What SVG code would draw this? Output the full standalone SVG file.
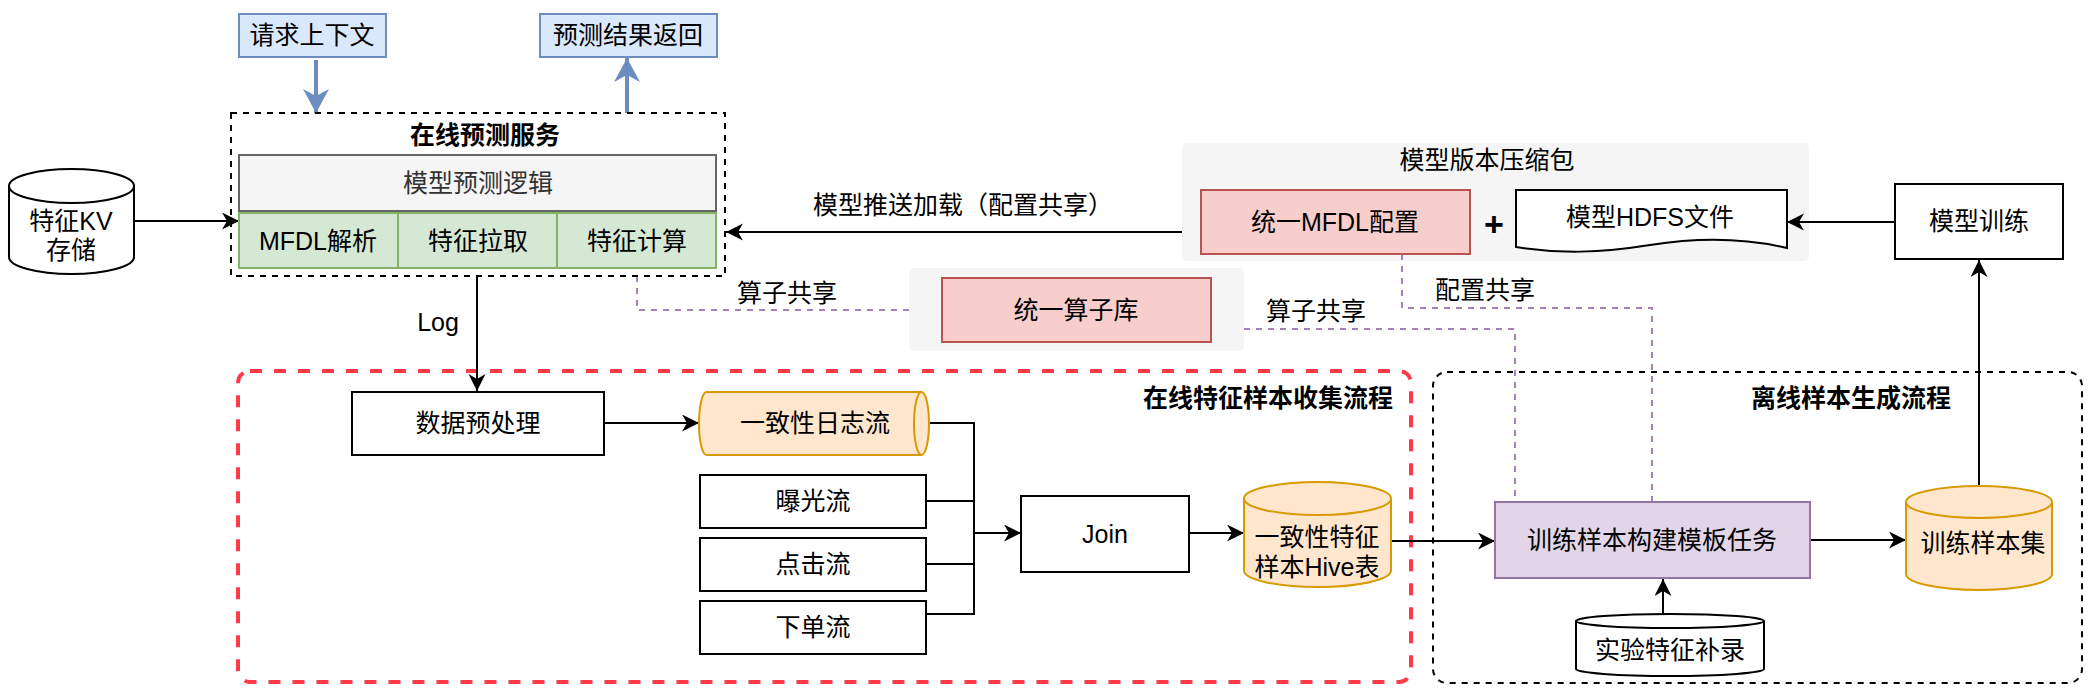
<svg xmlns="http://www.w3.org/2000/svg" width="2094" height="695" viewBox="0 0 2094 695">
<style>
.t{font-family:"Liberation Sans","Noto Sans CJK SC",sans-serif;font-size:25px;text-anchor:middle;dominant-baseline:central;fill:#000}
.b{font-weight:bold}
.box{fill:#fff;stroke:#000;stroke-width:2}
.e{fill:none;stroke:#000;stroke-width:2}
.pd{fill:none;stroke:#a680b8;stroke-width:2;stroke-dasharray:6 6}
.blue{fill:#dae8fc;stroke:#6c8ebf;stroke-width:2}
.red{fill:#f8cecc;stroke:#b85450;stroke-width:2}
.green{fill:#d5e8d4;stroke:#82b366;stroke-width:2}
.org{fill:#ffe6cc;stroke:#d79b00;stroke-width:2}
.panel{fill:#f5f5f5;stroke:none}
</style>
<defs>
<marker id="arr" markerUnits="userSpaceOnUse" markerWidth="18" markerHeight="18" refX="17" refY="8.5" orient="auto">
<path d="M0,0 L17,8.5 L0,17 L5,8.5 Z" fill="#000"/>
</marker>
<marker id="barr" markerUnits="userSpaceOnUse" markerWidth="26" markerHeight="26" refX="24" refY="13" orient="auto">
<path d="M0,0 L24,13 L0,26 L7,13 Z" fill="#6c8ebf"/>
</marker>
</defs>

<!-- background panels and containers -->
<g id="panel-package">
<rect class="panel" x="1182" y="143" width="627" height="118" rx="5"/>
<text class="t" x="1487" y="160">模型版本压缩包</text>
</g>
<g id="panel-ops">
<rect class="panel" x="909" y="268" width="335" height="83" rx="5"/>
</g>
<g id="online-flow">
<rect x="238" y="371" width="1173" height="311" rx="12" fill="none" stroke="#ff3b47" stroke-width="4" stroke-dasharray="12 12"/>
<text class="t b" x="1268" y="398">在线特征样本收集流程</text>
</g>
<g id="offline-flow">
<rect x="1433" y="372" width="649" height="311" rx="14" fill="none" stroke="#000" stroke-width="2" stroke-dasharray="6 6"/>
<text class="t b" x="1851" y="398">离线样本生成流程</text>
</g>

<!-- connectors -->
<g id="connectors">
<line x1="316" y1="60" x2="316" y2="113" stroke="#6c8ebf" stroke-width="4" marker-end="url(#barr)"/>
<line x1="627" y1="113" x2="627" y2="58" stroke="#6c8ebf" stroke-width="4" marker-end="url(#barr)"/>
<line class="e" x1="134" y1="221" x2="239" y2="221" marker-end="url(#arr)"/>
<line class="e" x1="1182" y1="232" x2="726" y2="232" marker-end="url(#arr)"/>
<text class="t" x="963" y="205">模型推送加载（配置共享）</text>
<line class="e" x1="477" y1="276" x2="477" y2="391" marker-end="url(#arr)"/>
<text class="t" x="438" y="322">Log</text>
<line class="e" x1="604" y1="423" x2="699" y2="423" marker-end="url(#arr)"/>
<polyline class="e" points="929,423 974,423 974,533"/>
<polyline class="e" points="926,501 974,501"/>
<polyline class="e" points="926,564 974,564"/>
<polyline class="e" points="926,614 974,614 974,533"/>
<line class="e" x1="974" y1="533" x2="1021" y2="533" marker-end="url(#arr)"/>
<line class="e" x1="1189" y1="533" x2="1244" y2="533" marker-end="url(#arr)"/>
<line class="e" x1="1391" y1="541" x2="1495" y2="541" marker-end="url(#arr)"/>
<line class="e" x1="1810" y1="540" x2="1906" y2="540" marker-end="url(#arr)"/>
<line class="e" x1="1979" y1="486" x2="1979" y2="260" marker-end="url(#arr)"/>
<line class="e" x1="1895" y1="222" x2="1787" y2="222" marker-end="url(#arr)"/>
<line class="e" x1="1663" y1="614" x2="1663" y2="579" marker-end="url(#arr)"/>
<polyline class="pd" points="637,276 637,310 909,310"/>
<text class="t" x="787" y="293">算子共享</text>
<polyline class="pd" points="1244,329 1515,329 1515,502"/>
<text class="t" x="1316" y="311">算子共享</text>
<polyline class="pd" points="1402,254 1402,308 1652,308 1652,502"/>
<text class="t" x="1485" y="290">配置共享</text>
</g>

<!-- nodes -->
<g id="req">
<rect class="blue" x="239" y="14" width="147" height="43"/>
<text class="t" x="312" y="35">请求上下文</text>
</g>
<g id="resp">
<rect class="blue" x="540" y="14" width="177" height="43"/>
<text class="t" x="628" y="35">预测结果返回</text>
</g>
<g id="online-service">
<rect x="231" y="113" width="494" height="163" fill="none" stroke="#000" stroke-width="2" stroke-dasharray="6 6"/>
<text class="t b" x="485" y="135">在线预测服务</text>
<rect x="239" y="155" width="477" height="56" fill="#f5f5f5" stroke="#666" stroke-width="2"/>
<text class="t" x="478" y="183" style="fill:#333">模型预测逻辑</text>
<rect class="green" x="239" y="213" width="159" height="55"/>
<rect class="green" x="398" y="213" width="159" height="55"/>
<rect class="green" x="557" y="213" width="159" height="55"/>
<text class="t" x="318" y="241">MFDL解析</text>
<text class="t" x="478" y="241">特征拉取</text>
<text class="t" x="637" y="241">特征计算</text>
</g>
<g id="kv">
<path class="box" d="M9,186 A62.5,17 0 0 1 134,186 V257 A62.5,17 0 0 1 9,257 Z"/>
<path class="e" d="M9,186 A62.5,17 0 0 0 134,186"/>
<text class="t" x="71" y="221">特征KV</text>
<text class="t" x="71" y="250">存储</text>
</g>
<g id="mfdl">
<rect class="red" x="1201" y="190" width="269" height="64"/>
<text class="t" x="1335" y="222">统一MFDL配置</text>
</g>
<g id="plus">
<text class="t b" x="1494" y="224" style="font-size:34px">+</text>
</g>
<g id="hdfs">
<path class="box" d="M1516,190 L1787,190 L1787,248 C1745,238 1700,237 1650,245 C1600,253 1560,254 1516,247 Z"/>
<text class="t" x="1650" y="217">模型HDFS文件</text>
</g>
<g id="train">
<rect class="box" x="1895" y="184" width="168" height="75"/>
<text class="t" x="1979" y="221">模型训练</text>
</g>
<g id="ops">
<rect class="red" x="942" y="278" width="269" height="64"/>
<text class="t" x="1076" y="310">统一算子库</text>
</g>
<g id="preprocess">
<rect class="box" x="352" y="392" width="252" height="63"/>
<text class="t" x="478" y="423">数据预处理</text>
</g>
<g id="logstream">
<path class="org" d="M706.5,392 L921.5,392 A7.5,31.5 0 0 1 921.5,455 L706.5,455 A7.5,31.5 0 0 1 706.5,392 Z"/>
<path fill="none" stroke="#d79b00" stroke-width="2" d="M921.5,392 A7.5,31.5 0 0 0 921.5,455"/>
<text class="t" x="815" y="423">一致性日志流</text>
</g>
<g id="expose">
<rect class="box" x="700" y="475" width="226" height="53"/>
<text class="t" x="813" y="501">曝光流</text>
</g>
<g id="click">
<rect class="box" x="700" y="538" width="226" height="53"/>
<text class="t" x="813" y="564">点击流</text>
</g>
<g id="order">
<rect class="box" x="700" y="601" width="226" height="53"/>
<text class="t" x="813" y="627">下单流</text>
</g>
<g id="join">
<rect class="box" x="1021" y="496" width="168" height="76"/>
<text class="t" x="1105" y="534">Join</text>
</g>
<g id="hive">
<path class="org" d="M1244,498.5 A73.5,16.5 0 0 1 1391,498.5 V570.5 A73.5,16.5 0 0 1 1244,570.5 Z"/>
<path fill="none" stroke="#d79b00" stroke-width="2" d="M1244,498.5 A73.5,16.5 0 0 0 1391,498.5"/>
<text class="t" x="1317" y="537">一致性特征</text>
<text class="t" x="1317" y="567">样本Hive表</text>
</g>
<g id="task">
<rect x="1495" y="502" width="315" height="76" fill="#e1d5e7" stroke="#9673a6" stroke-width="2"/>
<text class="t" x="1652" y="540">训练样本构建模板任务</text>
</g>
<g id="trainset">
<path class="org" d="M1906,502 A73,16 0 0 1 2052,502 V574 A73,16 0 0 1 1906,574 Z"/>
<path fill="none" stroke="#d79b00" stroke-width="2" d="M1906,502 A73,16 0 0 0 2052,502"/>
<text class="t" x="1983" y="543">训练样本集</text>
</g>
<g id="exp">
<path class="box" d="M1576,621 A94,7 0 0 1 1764,621 V669 A94,7 0 0 1 1576,669 Z"/>
<path class="e" d="M1576,621 A94,7 0 0 0 1764,621"/>
<text class="t" x="1670" y="650">实验特征补录</text>
</g>
</svg>
